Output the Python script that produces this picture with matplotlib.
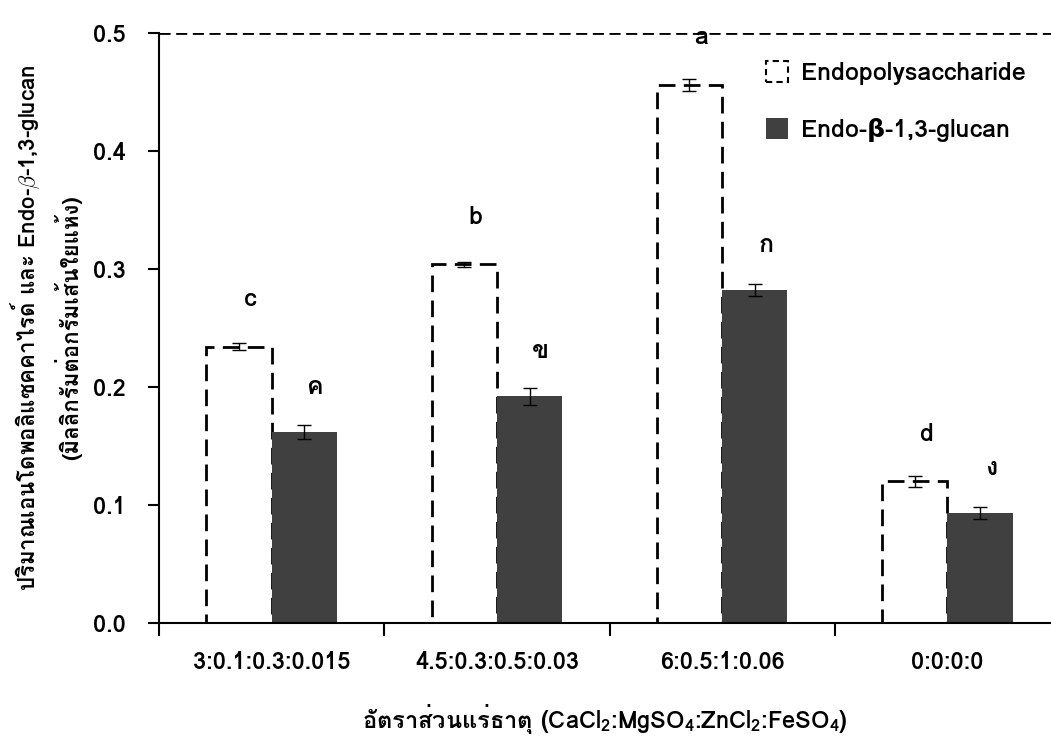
import numpy as np
import matplotlib
matplotlib.use('Agg')
import matplotlib.pyplot as plt
from matplotlib import font_manager
from matplotlib.ft2font import FT2Font
from matplotlib.patches import Patch

# data
categories = ['3:0.1:0.3:0.015', '4.5:0.3:0.5:0.03', '6:0.5:1:0.06', '0:0:0:0']
endopoly = [0.234, 0.304, 0.456, 0.120]
endopoly_err = [0.003, 0.002, 0.005, 0.005]
glucan = [0.162, 0.192, 0.282, 0.093]
glucan_err = [0.006, 0.007, 0.005, 0.005]
letters_poly = ['c', 'b', 'a', 'd']
letters_glucan = ['ค', 'ข', 'ก', 'ง']
yticks = [0.0, 0.1, 0.2, 0.3, 0.4, 0.5]

# find a font that has Thai glyphs
thai_fonts = []
for fe in font_manager.fontManager.ttflist:
    try:
        if 0x0E01 in FT2Font(fe.fname).get_charmap():
            thai_fonts.append(fe.name)
    except Exception:
        pass
fam = ([thai_fonts[0]] if thai_fonts else []) + ['DejaVu Sans']
plt.rcParams['font.family'] = fam
plt.rcParams['mathtext.fontset'] = 'custom'
plt.rcParams['mathtext.rm'] = fam[0] + ':bold'
plt.rcParams['mathtext.it'] = fam[0] + ':italic:bold'

fig = plt.figure(figsize=(10.51, 7.47), dpi=100)
ax = fig.add_axes([159/1051, 1 - 623/747, (1051-159)/1051, (623-33)/747])

x = np.arange(len(categories))
w = 0.29
ax.bar(x - w/2, endopoly, w, color='white', edgecolor='black', linewidth=2,
       linestyle=(0, (6, 3)), zorder=2)
ax.bar(x + w/2, glucan, w, color='#404040', zorder=2)
ax.errorbar(x - w/2, endopoly, yerr=endopoly_err, fmt='none', ecolor='black',
            elinewidth=1, capsize=5, zorder=3)
ax.errorbar(x + w/2, glucan, yerr=glucan_err, fmt='none', ecolor='black',
            elinewidth=1, capsize=5, zorder=3)

for i in range(len(categories)):
    ax.text(x[i] - w/2 + 0.05, endopoly[i] + 0.04, letters_poly[i], ha='center',
            va='center', fontsize=18, fontweight='bold')
    ax.text(x[i] + w/2 + 0.05, glucan[i] + 0.038, letters_glucan[i], ha='center',
            va='center', fontsize=18, fontweight='bold')

ax.axhline(0.5, color='black', linestyle=(0, (4, 2)), linewidth=2, zorder=1)

ax.set_ylim(0, 0.5)
ax.set_xlim(-0.5, 3.46)
ax.set_yticks(yticks)
ax.set_yticklabels(['%.1f' % v for v in yticks], fontsize=17, fontweight='bold')
ax.set_xticks([-0.5, 0.5, 1.5, 2.5])
ax.set_xticklabels([])
ax.set_xticks(x, minor=True)
ax.set_xticklabels(categories, minor=True, fontsize=17, fontweight='bold')
ax.tick_params(axis='x', which='minor', length=0, pad=20)
ax.tick_params(axis='x', which='major', length=9, width=1.5, direction='out')
ax.tick_params(axis='y', length=8, width=1.5, direction='out', pad=16)

for s in ['top', 'right']:
    ax.spines[s].set_visible(False)
ax.spines['left'].set_linewidth(1.5)
ax.spines['bottom'].set_linewidth(1.5)

ax.set_ylabel('ปริมาณเอนโดพอลิแซคคาไรด์ และ Endo-$\\mathit{\\beta}$-1,3-glucan\n(มิลลิกรัมต่อกรัมเส้นใยแห้ง)',
              fontsize=16, fontweight='bold', labelpad=8, linespacing=1.5)
ax.set_xlabel('อัตราส่วนแร่ธาตุ (CaCl$_2$:MgSO$_4$:ZnCl$_2$:FeSO$_4$)',
              fontsize=17, fontweight='bold', labelpad=20)

handles = [Patch(facecolor='white', edgecolor='black', linestyle=(0, (3, 2)), linewidth=1.5,
                 label='Endopolysaccharide'),
           Patch(facecolor='#404040', label='Endo-β-1,3-glucan')]
ax.legend(handles=handles, loc='upper left', bbox_to_anchor=(0.655, 0.99), frameon=False,
          labelspacing=1.3, handlelength=0.9, handleheight=0.9,
          handletextpad=0.5, prop={'weight': 'bold', 'size': 18})

fig.savefig('out.png', dpi=100)
